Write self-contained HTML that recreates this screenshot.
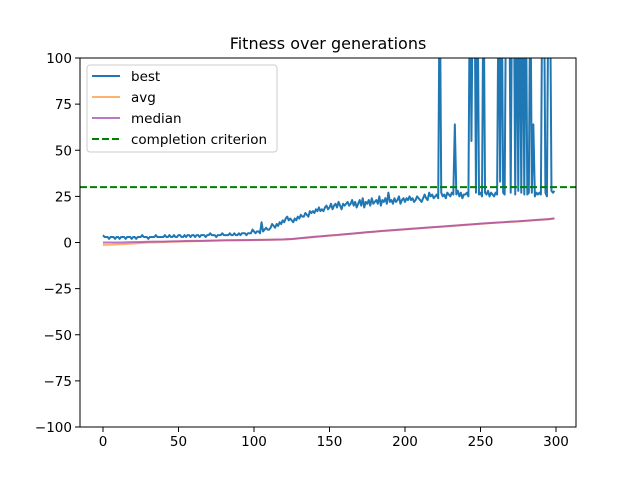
<!DOCTYPE html>
<html><head><meta charset="utf-8"><style>
body{margin:0;background:#fff;font-family:"Liberation Sans","DejaVu Sans",sans-serif}
svg text{font-family:"DejaVu Sans","Liberation Sans",sans-serif}
</style></head><body>
<svg id="chart" width="640" height="480" viewBox="0 0 640 480" xmlns="http://www.w3.org/2000/svg">
<rect width="640" height="480" fill="#fff"/>
<defs><clipPath id="clip"><rect x="80" y="58" width="496" height="369"/></clipPath></defs>
<text x="328" y="49" font-size="16" text-anchor="middle">Fitness over generations</text>
<g id="ticks"></g>
<g id="series" clip-path="url(#clip)"></g>
<rect x="80" y="58" width="496" height="369" fill="none" stroke="#000" stroke-width="1"/>
<g id="legend"></g>
</svg>
<script>
const best=[4,3,3,3,2,3,3,3,2,3,3,2,3,3,3,2,3,3,3,2,
3,3,2,3,3,3,4,3,3,3,2,3,3,3,3,4,3,3,3,3,
3,4,3,3,4,3,3,4,3,3,4,4,3,3,4,3,4,4,3,4,
4,3,4,4,3,4,4,4,3,4,4,5,4,4,4,3,4,4,4,5,
4,4,4,4,5,4,4,5,4,4,5,4,5,5,5,4,5,5,5,7,
6,5,6,6,5,11,6,7,8,7,7,8,10,9,8,10,9,11,10,12,
11,13,14,12,13,12,11,13,12,14,13,15,14,14,16,15,14,17,16,17,
16,18,17,19,17,18,17,19,20,18,19,21,18,20,21,19,22,20,18,21,
20,21,22,20,21,23,20,22,19,21,23,20,24,19,22,21,23,20,24,21,
22,23,21,25,20,23,22,24,21,27,22,23,21,24,22,23,25,21,23,24,
22,24,23,25,23,24,22,23,25,24,23,22,24,26,24,23,27,25,26,24,
25,26,24,150,27,25,26,24,27,26,25,27,26,64,26,28,25,27,24,26,
26,27,25,150,55,150,150,27,150,26,27,25,150,27,26,28,25,27,26,25,
27,26,150,33,150,27,26,150,150,150,27,150,150,26,150,28,150,27,150,26,
150,26,27,150,27,64,25,27,26,27,26,150,150,27,25,150,150,28,27,28];
const avgGens=[0,5,10,15,20,25,30,35,40,45,50,55,60,65,70,75,80,85,90,95,100,105,110,115,120,125,130,135,140,145,150,155,160,165,170,175,180,185,190,195,200,205,210,215,220,225,230,235,240,245,250,255,260,265,270,275,280,285,290,295,299];
const avg=[-1.3,-1.2,-1.0,-0.8,-0.6,-0.3,0,0.1,0.3,0.4,0.5,0.6,0.7,0.8,0.9,1.0,1.1,1.2,1.2,1.3,1.3,1.4,1.5,1.5,1.6,1.8,2.2,2.6,3.0,3.4,3.7,4.0,4.4,4.8,5.1,5.5,5.9,6.2,6.5,6.8,7.1,7.4,7.7,8.0,8.3,8.6,8.9,9.2,9.5,9.8,10.1,10.4,10.7,11.0,11.2,11.4,11.7,12.0,12.3,12.6,13.0];
const median=[0,0,0,0.1,0.2,0.3,0.4,0.5,0.5,0.6,0.7,0.8,0.9,0.9,1.0,1.1,1.2,1.2,1.3,1.3,1.4,1.4,1.5,1.6,1.7,1.9,2.3,2.7,3.1,3.4,3.8,4.1,4.5,4.8,5.2,5.6,5.9,6.3,6.6,6.9,7.2,7.5,7.8,8.1,8.4,8.7,9.0,9.3,9.6,9.9,10.2,10.5,10.8,11.0,11.3,11.5,11.8,12.1,12.4,12.7,13.1];
const threshold=30;
const xTicks=[0,50,100,150,200,250,300];
const yTicks=[100,75,50,25,0,-25,-50,-75,-100];
const NS='http://www.w3.org/2000/svg';
const X=g=>103+g*(453/300);
const Y=v=>242.5-v*(184.5/100);
function mk(tag,attrs,parent){const e=document.createElementNS(NS,tag);for(const k in attrs)e.setAttribute(k,attrs[k]);parent.appendChild(e);return e;}
const tk=document.getElementById('ticks');
xTicks.forEach(t=>{
 const l=mk('line',{x1:X(t),x2:X(t),y1:427,y2:432,stroke:'#000'},tk);
 
 
 const tx=mk('text',{x:X(t),y:446,'font-size':13.5,'text-anchor':'middle'},tk);tx.textContent=t;
 
 
});
yTicks.forEach(t=>{
 const l=mk('line',{x1:75,x2:80,y1:Y(t),y2:Y(t),stroke:'#000'},tk);
 
 
 const tx=mk('text',{x:72,y:Y(t)+5,'font-size':13.5,'text-anchor':'end'},tk);tx.textContent=t===0?'0':(t<0?'\u2212'+(-t):t);
 
 
});
const sg=document.getElementById('series');
const pA=mk('polyline',{points:avg.map((v,i)=>X(avgGens[i])+','+Y(v)).join(' '),fill:'none',stroke:'#ff7f0e','stroke-opacity':0.6,'stroke-width':2},sg);


const pM=mk('polyline',{points:median.map((v,i)=>X(avgGens[i])+','+Y(v)).join(' '),fill:'none',stroke:'#9c3fb0','stroke-opacity':0.7,'stroke-width':2},sg);


const pB=mk('polyline',{points:best.map((v,i)=>X(i)+','+Y(v)).join(' '),fill:'none',stroke:'#1f77b4','stroke-width':2,'stroke-linejoin':'round'},sg);


const th=mk('line',{x1:80,x2:576,y1:Y(threshold),y2:Y(threshold),stroke:'#008000','stroke-width':2,'stroke-dasharray':'7,3'},sg);


const lg=document.getElementById('legend');
mk('rect',{x:87,y:65,width:190,height:87,rx:3,fill:'#fff','fill-opacity':0.8,stroke:'#ccc'},lg);
const entries=[['best','#1f77b4',1,''],['avg','#ff7f0e',0.6,''],['median','#9c3fb0',0.7,''],['completion criterion','#008000',1,'7,3']];
entries.forEach((e,i)=>{
 const y=76+i*21;
 const g=mk('g',{},lg);
 
 
 const a={x1:92,x2:120,y1:y,y2:y,stroke:e[1],'stroke-opacity':e[2],'stroke-width':2};
 if(e[3])a['stroke-dasharray']=e[3];
 mk('line',a,g);
 const t=mk('text',{x:131,y:y+5,'font-size':13.5},g);t.textContent=e[0];
});
</script>
</body></html>
